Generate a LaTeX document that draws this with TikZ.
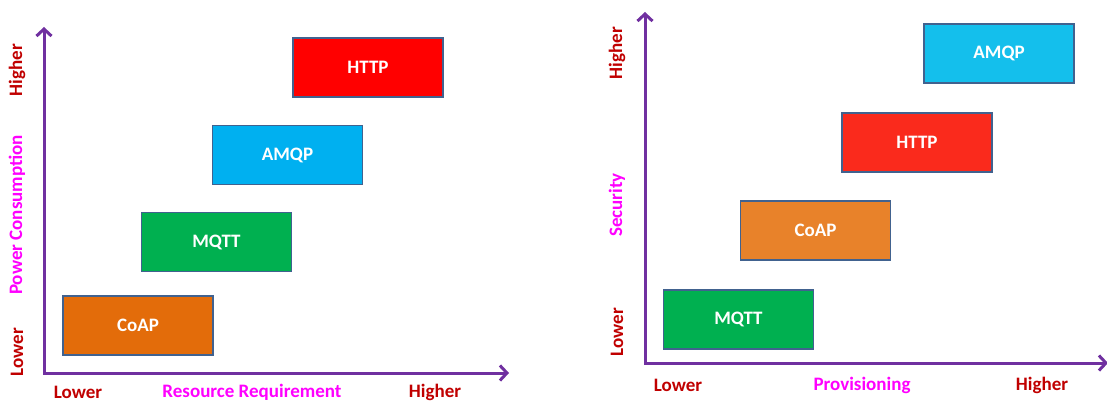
\documentclass[tikz,border=0pt]{standalone}
\usepackage{fontspec}
\setmainfont{Carlito}
\usetikzlibrary{arrows.meta,positioning}

\definecolor{axispurple}{HTML}{7030A0}
\definecolor{tickred}{HTML}{C00000}
\definecolor{titlepink}{HTML}{FF00FF}
\definecolor{boxedge}{HTML}{41628F}
\definecolor{httpred}{HTML}{FF0000}
\definecolor{httpredb}{HTML}{FA2A1C}
\definecolor{amqpblue}{HTML}{00B0F0}
\definecolor{amqpblueb}{HTML}{14BFEC}
\definecolor{mqttgreen}{HTML}{00B050}
\definecolor{coaporange}{HTML}{E36C0A}
\definecolor{coaporangeb}{HTML}{E8822A}

\begin{document}
\begin{tikzpicture}[
        x=1pt, y=-1pt,
        my axis/.style = {
            draw=axispurple,
            line width=3pt,
            {Straight Barb[length=7pt,width=15pt]}-{Straight Barb[length=7pt,width=15pt]}},
        my box/.style = {
            draw=boxedge,
            line width=1.3pt,
            minimum width=150pt,
            minimum height=59pt,
            text=white,
            font=\bfseries\fontsize{19}{22}\selectfont},
        my tick/.style = {
            text=tickred,
            font=\bfseries\fontsize{19}{22}\selectfont},
        my title/.style = {
            text=titlepink,
            font=\bfseries\fontsize{19}{22}\selectfont}
    ]
    \useasboundingbox (0,0) rectangle (1107,401);

    % power consumption vs resource requirement
    \coordinate (O1) at (44,373);
    \coordinate (Y1) at (44,27);
    \coordinate (X1) at (509,373);
    \draw[my axis] (Y1) -- (O1) -- (X1);
    \node[my box, fill=httpred] (http1) at (368,67.5) {HTTP};
    \node[my box, fill=amqpblue] (amqp1) at (287.5,155) {AMQP};
    \node[my box, fill=mqttgreen] (mqtt1) at (216.5,242) {MQTT};
    \node[my box, fill=coaporange] (coap1) at (138,325.5) {CoAP};
    \node[my tick, rotate=90] (yhigh1) at (17,70) {Higher};
    \node[my title, rotate=90] (ytitle1) at (17,215) {Power Consumption};
    \node[my tick, rotate=90] (ylow1) at (17,352) {Lower};
    \node[my tick] (xlow1) at (78,392) {Lower};
    \node[my title] (xtitle1) at (252,392) {Resource Requirement};
    \node[my tick] (xhigh1) at (435,392) {Higher};

    % security vs provisioning
    \coordinate (O2) at (645,363);
    \coordinate (Y2) at (645,12);
    \coordinate (X2) at (1108,363);
    \draw[my axis] (Y2) -- (O2) -- (X2);
    \node[my box, fill=amqpblueb] (amqp2) at (999,53.5) {AMQP};
    \node[my box, fill=httpredb] (http2) at (917,142.5) {HTTP};
    \node[my box, fill=coaporangeb] (coap2) at (815.5,230.5) {CoAP};
    \node[my box, fill=mqttgreen] (mqtt2) at (738.5,319.5) {MQTT};
    \node[my tick, rotate=90] (yhigh2) at (617,53) {Higher};
    \node[my title, rotate=90] (ytitle2) at (617,205) {Security};
    \node[my tick, rotate=90] (ylow2) at (617,332) {Lower};
    \node[my tick] (xlow2) at (678,385) {Lower};
    \node[my title] (xtitle2) at (862,385) {Provisioning};
    \node[my tick] (xhigh2) at (1042,385) {Higher};
\end{tikzpicture}
\end{document}
